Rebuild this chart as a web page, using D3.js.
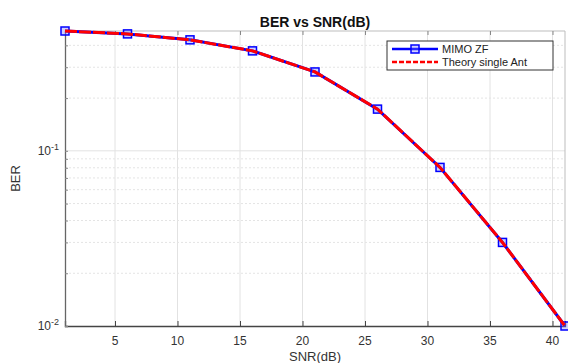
<!DOCTYPE html>
<html>
<head>
<meta charset="utf-8">
<script src="https://cdn.jsdelivr.net/npm/d3@7"></script>
<style>
  body { margin: 0; background: #fff; }
  svg text { font-family: "Liberation Sans", Arial, sans-serif; }
</style>
</head>
<body>
<div id="chart"></div>
<script>
// values
let snrValues = [1, 6, 11, 16, 21, 26, 31, 36, 41];
let mimoZF = [0.483, 0.465, 0.430, 0.372, 0.282, 0.173, 0.0804, 0.0300, 0.0100];
let theorySingle = [0.483, 0.465, 0.430, 0.372, 0.282, 0.173, 0.0804, 0.0300, 0.0100];
let xTicks = [5, 10, 15, 20, 25, 30, 35, 40];
let yTicks = [0.01, 0.1];
let yTickExp = ["-2", "-1"];
let yMinor = [0.02, 0.03, 0.04, 0.05, 0.06, 0.07, 0.08, 0.09, 0.2, 0.3, 0.4];
let legendNames = ["MIMO ZF", "Theory single Ant"];

let width = 568, height = 363;
let margin = {top: 31, right: 3, bottom: 37, left: 65};
let plotW = width - margin.left - margin.right;
let plotH = height - margin.top - margin.bottom;

let svg = d3.select("#chart").append("svg")
    .attr("width", width)
    .attr("height", height);

let xScale = d3.scaleLinear().domain([1, 41]).range([0, plotW]);
let yScale = d3.scaleLog().domain([0.01, 0.483]).range([plotH, 0]);

let g = svg.append("g").attr("transform", "translate(" + margin.left + "," + margin.top + ")");

//grid lines
g.selectAll(".xgrid").data(xTicks).enter().append("line")
    .attr("x1", d => xScale(d)).attr("x2", d => xScale(d))
    .attr("y1", 0).attr("y2", plotH)
    .attr("stroke", "#e2e2e2").attr("stroke-width", 1);
g.selectAll(".yminor").data(yMinor).enter().append("line")
    .attr("x1", 0).attr("x2", plotW)
    .attr("y1", d => yScale(d)).attr("y2", d => yScale(d))
    .attr("stroke", "#e4e4e4").attr("stroke-width", 1)
    .attr("stroke-dasharray", "2,2");
g.selectAll(".ygrid").data([0.1]).enter().append("line")
    .attr("x1", 0).attr("x2", plotW)
    .attr("y1", d => yScale(d)).attr("y2", d => yScale(d))
    .attr("stroke", "#e2e2e2").attr("stroke-width", 1);

//box
g.append("line").attr("x1", 0).attr("x2", plotW).attr("y1", 0).attr("y2", 0)
    .attr("stroke", "#bdbdbd");
g.append("line").attr("x1", plotW).attr("x2", plotW).attr("y1", 0).attr("y2", plotH)
    .attr("stroke", "#bdbdbd");

//axes (ticks pointing inward)
let xAxis = d3.axisTop(xScale).tickValues(xTicks).tickSize(5).tickFormat("");
g.append("g").attr("transform", "translate(0," + plotH + ")").call(xAxis)
    .call(s => s.select(".domain").attr("stroke", "#444").attr("stroke-width", 1.3))
    .call(s => s.selectAll(".tick line").attr("stroke", "#444"));
g.append("g").call(d3.axisBottom(xScale).tickValues(xTicks).tickSize(4).tickFormat(""))
    .call(s => s.select(".domain").remove())
    .call(s => s.selectAll(".tick line").attr("stroke", "#888"));

let yAxis = d3.axisRight(yScale).tickValues(yTicks.concat(yMinor)).tickSize(3).tickFormat("");
g.append("g").call(yAxis)
    .call(s => s.select(".domain").attr("stroke", "#666").attr("stroke-width", 1.3))
    .call(s => s.selectAll(".tick line").attr("stroke", "#888"));

//tick labels
g.selectAll(".xlabel").data(xTicks).enter().append("text")
    .attr("x", d => xScale(d)).attr("y", plotH + 19)
    .attr("text-anchor", "middle")
    .attr("font-size", 12).attr("fill", "#333")
    .text(d => d);

let yl = g.selectAll(".ylabel").data(yTicks).enter().append("text")
    .attr("x", -6).attr("y", d => yScale(d) + 4)
    .attr("text-anchor", "end")
    .attr("font-size", 12).attr("fill", "#333");
yl.append("tspan").text("10");
yl.append("tspan").attr("dy", -5).attr("font-size", 9).text((d, i) => yTickExp[i]);

//axis titles
svg.append("text")
    .attr("x", margin.left + plotW / 2).attr("y", height - 2)
    .attr("text-anchor", "middle").attr("font-size", 13).attr("fill", "#333")
    .text("SNR(dB)");
svg.append("text")
    .attr("transform", "translate(20," + (margin.top + plotH / 2) + ") rotate(-90)")
    .attr("text-anchor", "middle").attr("font-size", 13).attr("fill", "#333")
    .text("BER");
svg.append("text")
    .attr("x", margin.left + plotW / 2).attr("y", 27)
    .attr("text-anchor", "middle").attr("font-size", 14).attr("font-weight", "bold")
    .attr("fill", "#111")
    .text("BER vs SNR(dB)");

//series
let line = d3.line().x((d, i) => xScale(snrValues[i])).y(d => yScale(d));
g.append("path").datum(mimoZF)
    .attr("d", line).attr("fill", "none")
    .attr("stroke", "#0000ff").attr("stroke-width", 3);
g.selectAll(".marker").data(mimoZF).enter().append("rect")
    .attr("x", (d, i) => xScale(snrValues[i]) - 4)
    .attr("y", d => yScale(d) - 4)
    .attr("width", 8).attr("height", 8)
    .attr("fill", "rgba(120,120,255,0.35)")
    .attr("stroke", "#0000ff").attr("stroke-width", 1.5);
g.append("path").datum(theorySingle)
    .attr("d", line).attr("fill", "none")
    .attr("stroke", "#ff0000").attr("stroke-width", 3)
    .attr("stroke-dasharray", "12,2");

//legend
let legend = svg.append("g").attr("transform", "translate(387,41)");
legend.append("rect").attr("width", 166).attr("height", 29)
    .attr("fill", "#fff").attr("stroke", "#333").attr("stroke-width", 1);
legend.append("line").attr("x1", 5).attr("x2", 51).attr("y1", 8).attr("y2", 8)
    .attr("stroke", "#0000ff").attr("stroke-width", 2.5);
legend.append("rect").attr("x", 24).attr("y", 4).attr("width", 8).attr("height", 8)
    .attr("fill", "rgba(120,120,255,0.35)").attr("stroke", "#0000ff").attr("stroke-width", 1.5);
legend.append("line").attr("x1", 5).attr("x2", 51).attr("y1", 21).attr("y2", 21)
    .attr("stroke", "#ff0000").attr("stroke-width", 2.5).attr("stroke-dasharray", "5,2");
legend.selectAll(".lt").data(legendNames).enter().append("text")
    .attr("x", 55).attr("y", (d, i) => 12 + i * 13)
    .attr("font-size", 11).attr("fill", "#222")
    .text(d => d);
</script>
</body>
</html>
